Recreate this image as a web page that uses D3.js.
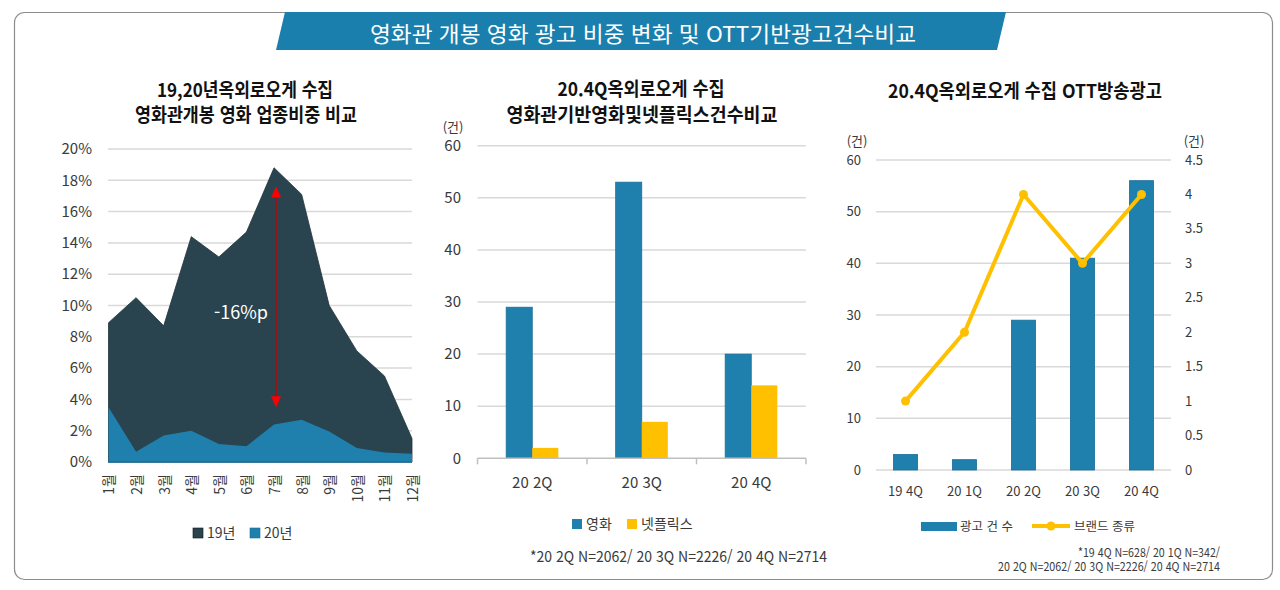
<!DOCTYPE html>
<html lang="ko">
<head>
<meta charset="utf-8">
<title>영화관 개봉 영화 광고 비중 변화 및 OTT기반광고건수비교</title>
<script src="https://cdn.jsdelivr.net/npm/d3@7"></script>
<style>
  body { margin: 0; background: #fff; font-family: "Noto Sans CJK KR", "Noto Sans", sans-serif; }
  svg text { font-family: "Noto Sans CJK KR", "Noto Sans", sans-serif; }
</style>
</head>
<body>
<script>
// ---- data ----
var months = ["1월","2월","3월","4월","5월","6월","7월","8월","9월","10월","11월","12월"];
var share19 = [0.089, 0.105, 0.087, 0.144, 0.131, 0.147, 0.188, 0.171, 0.100, 0.071, 0.055, 0.015];
var share20 = [0.035, 0.0065, 0.017, 0.020, 0.0115, 0.010, 0.024, 0.027, 0.0195, 0.009, 0.006, 0.0053];
var shareTicks = [0, 0.02, 0.04, 0.06, 0.08, 0.10, 0.12, 0.14, 0.16, 0.18, 0.20];

var quarters3 = ["20 2Q", "20 3Q", "20 4Q"];
var movieCount = [29, 53, 20];
var netflixCount = [2, 7, 14];
var countTicks = [0, 10, 20, 30, 40, 50, 60];

var quarters5 = ["19 4Q", "20 1Q", "20 2Q", "20 3Q", "20 4Q"];
var ottAds = [3, 2, 29, 41, 56];
var ottBrands = [1, 2, 4, 3, 4];
var brandTicks = [0, 0.5, 1, 1.5, 2, 2.5, 3, 3.5, 4, 4.5];

var dark = "#29444f", blue = "#1f80ad", yellow = "#ffc000", grid = "#d9d9d9", txt = "#3a3a3a";

var svg = d3.select("body").append("svg").attr("width", 1280).attr("height", 590);

// frame + banner
svg.append("rect").attr("x", 14.5).attr("y", 12.5).attr("width", 1258).attr("height", 567)
   .attr("rx", 10).attr("fill", "#fff").attr("stroke", "#8c8c8c").attr("stroke-width", 1.2);
svg.append("polygon").attr("points", "285,12 1006,12 997,50 276,50").attr("fill", "#1b7fad");
svg.append("text").attr("x", 643).attr("y", 32).attr("dominant-baseline", "central")
   .attr("text-anchor", "middle").attr("fill", "#fff").attr("font-size", 22)
   .attr("textLength", 546).attr("lengthAdjust", "spacingAndGlyphs")
   .text("영화관 개봉 영화 광고 비중 변화 및 OTT기반광고건수비교");

function title(x, y, w, s) {
  svg.append("text").attr("x", x).attr("y", y).attr("text-anchor", "middle")
     .attr("dominant-baseline", "central").attr("font-size", 19).attr("font-weight", 700)
     .attr("fill", "#111").attr("textLength", w).attr("lengthAdjust", "spacingAndGlyphs").text(s);
}
title(245, 88, 176, "19,20년옥외로오게 수집");
title(246, 113, 222, "영화관개봉 영화 업종비중 비교");
title(641, 87, 167, "20.4Q옥외로오게 수집");
title(642, 113, 271, "영화관기반영화및넷플릭스건수비교");
title(1025, 89, 274, "20.4Q옥외로오게 수집 OTT방송광고");

// ---- left: area chart ----
var xL = d3.scalePoint().domain(months).range([108.5, 412]);
var yL = d3.scaleLinear().domain([0, 0.2]).range([462, 149]);
var g1 = svg.append("g");
g1.selectAll("line.grid").data(shareTicks).enter().append("line")
  .attr("x1", 108).attr("x2", 412).attr("y1", d => yL(d)).attr("y2", d => yL(d))
  .attr("stroke", grid).attr("stroke-width", 1.5);
g1.selectAll("text.yt").data(shareTicks).enter().append("text")
  .attr("x", 92).attr("y", d => yL(d)).attr("dy", "0.35em").attr("text-anchor", "end")
  .attr("font-size", 15).attr("fill", txt).text(d3.format(".0%"));
var area = d3.area().x((d, i) => xL(months[i])).y0(yL(0)).y1(d => yL(d));
g1.append("path").datum(share19).attr("d", area).attr("fill", dark).attr("stroke", "#1f333b").attr("stroke-width", 0.8);
g1.append("path").datum(share20).attr("d", area).attr("fill", blue);
g1.append("line").attr("x1", 108).attr("x2", 412).attr("y1", yL(0)).attr("y2", yL(0))
  .attr("stroke", "#1a6e97").attr("stroke-width", 1.5);
g1.selectAll("text.xt").data(months).enter().append("text")
  .attr("transform", d => "translate(" + (xL(d) + 1) + ",474) rotate(-90)")
  .attr("dy", "0.35em").attr("text-anchor", "end").attr("font-size", 14).attr("fill", txt).text(d => d);

// -16%p annotation
var ax = xL("7월") + 2, aTop = yL(0.176), aBot = yL(0.035);
g1.append("line").attr("x1", ax).attr("x2", ax).attr("y1", aTop + 10).attr("y2", aBot - 10)
  .attr("stroke", "#c00000").attr("stroke-width", 1.3);
g1.append("path").attr("d", "M" + ax + "," + aTop + " l-5,11 l10,0 z").attr("fill", "#ff0000");
g1.append("path").attr("d", "M" + ax + "," + aBot + " l-5,-11 l10,0 z").attr("fill", "#ff0000");
g1.append("text").attr("x", 241).attr("y", 311).attr("dominant-baseline", "central")
  .attr("text-anchor", "middle").attr("fill", "#fff").attr("font-size", 18).text("-16%p");

// legend
[["19년", dark, 193], ["20년", blue, 250]].forEach(function (l) {
  g1.append("rect").attr("x", l[2]).attr("y", 528).attr("width", 10).attr("height", 10)
    .attr("fill", l[1]).attr("stroke", l[1] == dark ? "#111" : "#1a6e97").attr("stroke-width", 0.6);
  g1.append("text").attr("x", l[2] + 14).attr("y", 533).attr("dy", "0.35em")
    .attr("font-size", 14).attr("fill", txt).text(l[0]);
});

// ---- middle: grouped bars ----
var x0 = d3.scaleBand().domain(quarters3).range([477.5, 806]);
var x1 = d3.scaleBand().domain(["영화", "넷플릭스"]).range([0, x0.bandwidth()]).paddingOuter(1.1);
var yM = d3.scaleLinear().domain([0, 60]).range([458.3, 145.7]);
var g2 = svg.append("g");
g2.selectAll("line.grid").data(countTicks.slice(1)).enter().append("line")
  .attr("x1", 477.5).attr("x2", 806).attr("y1", d => yM(d)).attr("y2", d => yM(d))
  .attr("stroke", grid).attr("stroke-width", 1.5);
g2.selectAll("text.yt").data(countTicks).enter().append("text")
  .attr("x", 461).attr("y", d => yM(d)).attr("dy", "0.35em").attr("text-anchor", "end")
  .attr("font-size", 15).attr("fill", txt).text(d => d);
g2.append("text").attr("x", 453).attr("y", 127).attr("dy", "0.35em").attr("text-anchor", "middle")
  .attr("font-size", 13).attr("fill", txt).text("(건)");
var groups = g2.selectAll("g.q").data(quarters3).enter().append("g")
  .attr("transform", d => "translate(" + x0(d) + ",0)");
groups.append("rect").attr("x", x1("영화")).attr("width", x1.bandwidth())
  .attr("y", (d, i) => yM(movieCount[i])).attr("height", (d, i) => yM(0) - yM(movieCount[i]))
  .attr("fill", blue).attr("stroke", "#1a6e97").attr("stroke-width", 0.8);
groups.append("rect").attr("x", x1("넷플릭스")).attr("width", x1.bandwidth())
  .attr("y", (d, i) => yM(netflixCount[i])).attr("height", (d, i) => yM(0) - yM(netflixCount[i]))
  .attr("fill", yellow);
g2.append("line").attr("x1", 477.5).attr("x2", 806).attr("y1", yM(0)).attr("y2", yM(0))
  .attr("stroke", "#bfbfbf").attr("stroke-width", 1.5);
g2.selectAll("line.tk").data(quarters3.concat(["end"])).enter().append("line")
  .attr("x1", (d, i) => i < 3 ? x0(d) : x0.range()[1]).attr("x2", (d, i) => i < 3 ? x0(d) : x0.range()[1])
  .attr("y1", yM(0)).attr("y2", yM(0) + 6).attr("stroke", "#bfbfbf").attr("stroke-width", 1.5);
g2.selectAll("text.xt").data(quarters3).enter().append("text")
  .attr("x", d => x0(d) + x0.bandwidth() / 2).attr("y", 483).attr("dy", "0.35em")
  .attr("text-anchor", "middle").attr("font-size", 15).attr("fill", txt).text(d => d);
[["영화", blue, 572], ["넷플릭스", yellow, 627]].forEach(function (l) {
  g2.append("rect").attr("x", l[2]).attr("y", 519).attr("width", 10).attr("height", 10).attr("fill", l[1]);
  g2.append("text").attr("x", l[2] + 14).attr("y", 524).attr("dy", "0.35em")
    .attr("font-size", 14).attr("fill", txt).text(l[0]);
});
g2.append("text").attr("x", 530).attr("y", 557).attr("dy", "0.35em").attr("font-size", 15)
  .attr("fill", txt).attr("textLength", 297).attr("lengthAdjust", "spacingAndGlyphs")
  .text("*20 2Q N=2062/ 20 3Q N=2226/ 20 4Q N=2714");

// ---- right: bars + line, dual axis ----
var xR = d3.scaleBand().domain(quarters5).range([876, 1171]).paddingInner(0.59).paddingOuter(0.295);
var yA = d3.scaleLinear().domain([0, 60]).range([470, 160]);
var yB = d3.scaleLinear().domain([0, 4.5]).range([470, 160]);
var g3 = svg.append("g");
g3.selectAll("line.grid").data(countTicks).enter().append("line")
  .attr("x1", 876).attr("x2", 1171).attr("y1", d => yA(d)).attr("y2", d => yA(d))
  .attr("stroke", grid).attr("stroke-width", 1.5);
g3.selectAll("text.yl").data(countTicks).enter().append("text")
  .attr("x", 861).attr("y", d => yA(d)).attr("dy", "0.35em").attr("text-anchor", "end")
  .attr("font-size", 13).attr("fill", txt).text(d => d);
g3.selectAll("text.yr").data(brandTicks).enter().append("text")
  .attr("x", 1185).attr("y", d => yB(d)).attr("dy", "0.35em")
  .attr("font-size", 13).attr("fill", txt).text(d => String(d));
g3.append("text").attr("x", 857).attr("y", 141).attr("dy", "0.35em").attr("text-anchor", "middle")
  .attr("font-size", 13).attr("fill", txt).text("(건)");
g3.append("text").attr("x", 1194).attr("y", 141).attr("dy", "0.35em").attr("text-anchor", "middle")
  .attr("font-size", 13).attr("fill", txt).text("(건)");
g3.selectAll("rect.bar").data(ottAds).enter().append("rect")
  .attr("x", (d, i) => xR(quarters5[i])).attr("width", xR.bandwidth())
  .attr("y", d => yA(d)).attr("height", d => yA(0) - yA(d))
  .attr("fill", blue).attr("stroke", "#1a6e97").attr("stroke-width", 0.8);
var cx = (d, i) => xR(quarters5[i]) + xR.bandwidth() / 2;
g3.append("path").datum(ottBrands)
  .attr("d", d3.line().x(cx).y(d => yB(d)))
  .attr("fill", "none").attr("stroke", yellow).attr("stroke-width", 4).attr("stroke-linejoin", "round");
g3.selectAll("circle").data(ottBrands).enter().append("circle")
  .attr("cx", cx).attr("cy", d => yB(d)).attr("r", 4.5).attr("fill", yellow);
g3.selectAll("text.xt").data(quarters5).enter().append("text")
  .attr("x", d => xR(d) + xR.bandwidth() / 2).attr("y", 491).attr("dy", "0.35em")
  .attr("text-anchor", "middle").attr("font-size", 13).attr("fill", txt).text(d => d);
g3.append("rect").attr("x", 921).attr("y", 522).attr("width", 36).attr("height", 9).attr("fill", blue);
g3.append("text").attr("x", 960).attr("y", 526.5).attr("dy", "0.35em").attr("font-size", 12.5)
  .attr("fill", txt).text("광고 건 수");
g3.append("line").attr("x1", 1032).attr("x2", 1070).attr("y1", 526).attr("y2", 526)
  .attr("stroke", yellow).attr("stroke-width", 4);
g3.append("circle").attr("cx", 1051).attr("cy", 526).attr("r", 4.5).attr("fill", yellow);
g3.append("text").attr("x", 1074).attr("y", 526.5).attr("dy", "0.35em").attr("font-size", 12.5)
  .attr("fill", txt).text("브랜드 종류");
g3.append("text").attr("x", 1220).attr("y", 552.5).attr("dy", "0.35em").attr("text-anchor", "end")
  .attr("font-size", 12).attr("fill", txt).attr("textLength", 142).attr("lengthAdjust", "spacingAndGlyphs")
  .text("*19 4Q N=628/ 20 1Q N=342/");
g3.append("text").attr("x", 1220).attr("y", 567).attr("dy", "0.35em").attr("text-anchor", "end")
  .attr("font-size", 12).attr("fill", txt).attr("textLength", 222).attr("lengthAdjust", "spacingAndGlyphs")
  .text("20 2Q N=2062/ 20 3Q N=2226/ 20 4Q N=2714");
</script>
</body>
</html>
